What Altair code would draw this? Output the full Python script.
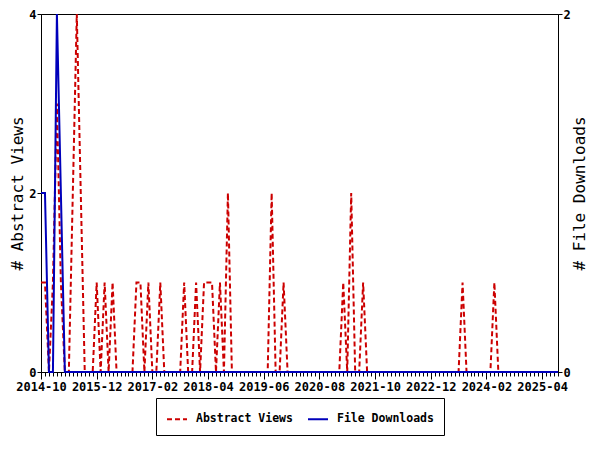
import altair as alt
import pandas as pd

SERIES = ["Abstract Views", "File Downloads"]
COLORS = ["#cc0000", "#0000bb"]
TICK_LABELS = ["2014-10", "2015-12", "2017-02", "2018-04", "2019-06",
               "2020-08", "2021-10", "2022-12", "2024-02", "2025-04"]
TICK_STEP = 14  # months between labelled ticks

# monthly values, 2014-10 ... 2025-08 (131 months)
ABSTRACT_VIEWS = [
    1, 1, 0, 1, 3, 1, 0, 0, 2, 4,
    2, 0, 0, 0, 1, 0, 1, 0, 1, 0,
    0, 0, 0, 0, 1, 1, 0, 1, 0, 0,
    1, 0, 0, 0, 0, 0, 1, 0, 0, 1,
    0, 1, 1, 1, 0, 1, 0, 2, 0, 0,
    0, 0, 0, 0, 0, 0, 0, 0, 2, 0,
    0, 1, 0, 0, 0, 0, 0, 0, 0, 0,
    0, 0, 0, 0, 0, 0, 1, 0, 2, 0,
    0, 1, 0, 0, 0, 0, 0, 0, 0, 0,
    0, 0, 0, 0, 0, 0, 0, 0, 0, 0,
    0, 0, 0, 0, 0, 0, 1, 0, 0, 0,
    0, 0, 0, 0, 1, 0, 0, 0, 0, 0,
    0, 0, 0, 0, 0, 0, 0, 0, 0, 0,
    0,
]
FILE_DOWNLOADS = [
    1, 1, 0, 0, 2, 1, 0, 0, 0, 0,
    0, 0, 0, 0, 0, 0, 0, 0, 0, 0,
    0, 0, 0, 0, 0, 0, 0, 0, 0, 0,
    0, 0, 0, 0, 0, 0, 0, 0, 0, 0,
    0, 0, 0, 0, 0, 0, 0, 0, 0, 0,
    0, 0, 0, 0, 0, 0, 0, 0, 0, 0,
    0, 0, 0, 0, 0, 0, 0, 0, 0, 0,
    0, 0, 0, 0, 0, 0, 0, 0, 0, 0,
    0, 0, 0, 0, 0, 0, 0, 0, 0, 0,
    0, 0, 0, 0, 0, 0, 0, 0, 0, 0,
    0, 0, 0, 0, 0, 0, 0, 0, 0, 0,
    0, 0, 0, 0, 0, 0, 0, 0, 0, 0,
    0, 0, 0, 0, 0, 0, 0, 0, 0, 0,
    0,
]

n = len(ABSTRACT_VIEWS)
rows = []
for i in range(n):
    rows.append({"idx": i, "series": SERIES[0], "value": ABSTRACT_VIEWS[i]})
for i in range(n):
    rows.append({"idx": i, "series": SERIES[1], "value": FILE_DOWNLOADS[i]})
df = pd.DataFrame(rows)

FONT = "DejaVu Sans Mono"
label_array = "[" + ",".join("'%s'" % t for t in TICK_LABELS) + "]"

x_axis = alt.Axis(
    values=list(range(n)),
    labelExpr="datum.value %% %d === 0 ? %s[datum.value / %d] : ''" % (TICK_STEP, label_array, TICK_STEP),
    tickSize={"condition": {"test": "datum.value %% %d === 0" % TICK_STEP, "value": 7}, "value": 4},
    labelOverlap=False,
    labelFlush=False,
    labelPadding=2,
    labelFontSize=12,
    labelFontWeight="bold",
    title=None,
    grid=False,
)

legend = alt.Legend(
    title=None,
    orient="none",
    legendX=115,
    legendY=384,
    direction="horizontal",
    symbolType="stroke",
    symbolSize=400,
    symbolStrokeWidth=2,
    labelFont=FONT,
    labelFontSize=11.5,
    labelFontWeight="bold",
    labelOffset=8,
    columnPadding=11,
    padding=10,
    strokeColor="black",
    fillColor="white",
)

color = alt.Color("series:N", scale=alt.Scale(domain=SERIES, range=COLORS), legend=legend)
dash = alt.StrokeDash("series:N", scale=alt.Scale(domain=SERIES, range=[[5, 3], [1, 0]]), legend=legend)

base = alt.Chart(df).encode(
    x=alt.X("idx:Q", scale=alt.Scale(domain=[0, n - 1], nice=False, zero=False), axis=x_axis),
    color=color,
    strokeDash=dash,
)

views = base.transform_filter(alt.datum.series == SERIES[0]).mark_line(strokeWidth=2, strokeCap="butt").encode(
    y=alt.Y("value:Q", scale=alt.Scale(domain=[0, 4], nice=False),
            axis=alt.Axis(orient="left", values=[0, 2, 4], title="# Abstract Views",
                          titlePadding=3, labelFontSize=12, labelFontWeight="bold",
                          tickSize=4, labelPadding=1, grid=False))
)

downloads = base.transform_filter(alt.datum.series == SERIES[1]).mark_line(strokeWidth=2, strokeCap="butt").encode(
    y=alt.Y("value:Q", scale=alt.Scale(domain=[0, 2], nice=False),
            axis=alt.Axis(orient="right", values=[0, 2], title="# File Downloads",
                          titleAngle=270, titlePadding=17, labelFontSize=12, labelFontWeight="bold",
                          tickSize=4, labelPadding=1, grid=False))
)

chart = alt.layer(views, downloads).resolve_scale(y="independent").properties(
    width=517,
    height=358,
    autosize=alt.AutoSizeParams(type="none"),
    padding={"left": 33, "top": 6, "right": 34, "bottom": 70},
    background="white",
).configure_view(
    stroke="black", strokeWidth=1
).configure_axis(
    labelFont=FONT, titleFont=FONT, titleFontSize=16, titleFontWeight="normal",
    domainColor="black", tickColor="black", labelColor="black", titleColor="black",
)

chart.save("out.html", embed_options={"renderer": "svg", "actions": False})
